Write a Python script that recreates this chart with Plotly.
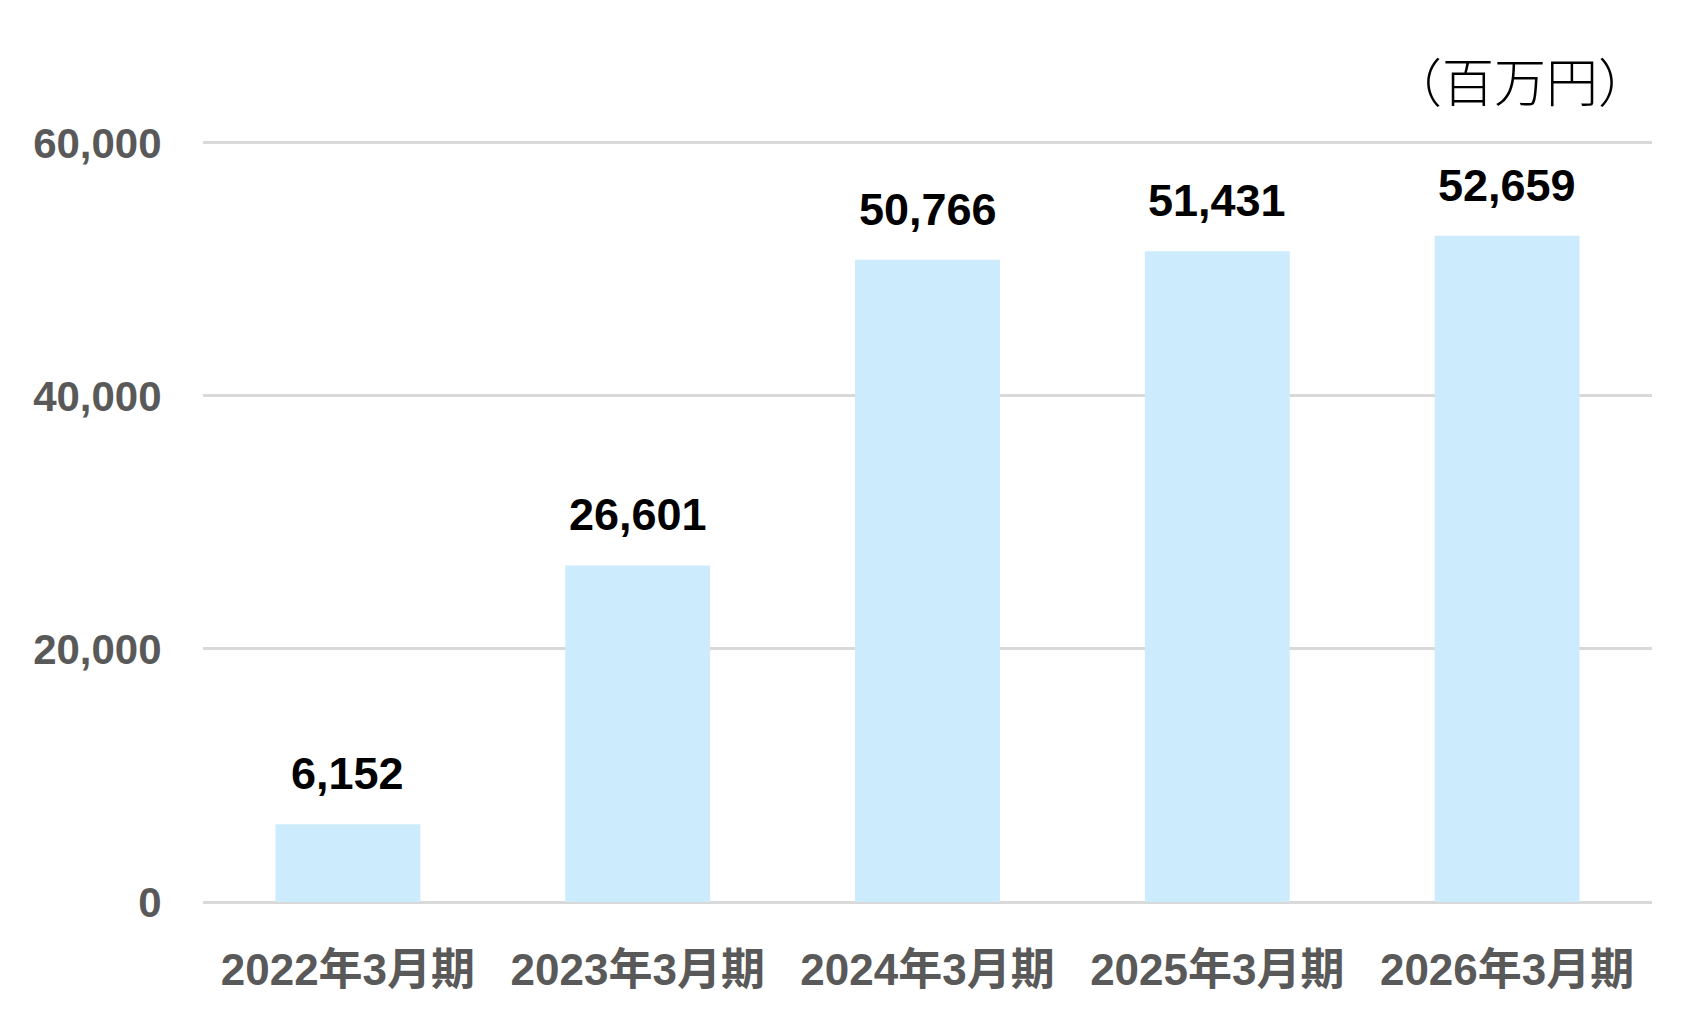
import plotly.graph_objects as go

categories = ["2022年3月期", "2023年3月期", "2024年3月期", "2025年3月期", "2026年3月期"]
values = [6152, 26601, 50766, 51431, 52659]
tick_vals = [0, 20000, 40000, 60000]
tick_text = ["0", "20,000", "40,000", "60,000"]
unit_label = "（百万円）"

font_family = "Liberation Sans, Arial, Noto Sans CJK JP, sans-serif"

fig = go.Figure()
fig.add_trace(go.Bar(
	x=categories,
	y=values,
	marker=dict(color="#CCEBFD", line=dict(width=0)),
	hoverinfo="skip",
))

# value labels above the bars
for cat, val in zip(categories, values):
	fig.add_annotation(
		x=cat, y=val, text=f"<b>{val:,}</b>",
		showarrow=False, yanchor="bottom", yshift=23,
		font=dict(family=font_family, size=45, color="#000000"),
	)

fig.add_annotation(
	xref="paper", yref="paper", x=1.0, y=1.0,
	xanchor="right", yanchor="bottom", xshift=0, yshift=20,
	text=unit_label, showarrow=False,
	font=dict(family="Noto Sans CJK JP", size=52, color="#000000", weight=300),
)

# page body has an 8px margin, so the figure is sized/offset to compensate
fig.update_layout(
	width=1697, height=1023,
	margin=dict(l=195, r=53, t=131, b=129),
	paper_bgcolor="white", plot_bgcolor="white",
	bargap=0.5, showlegend=False,
	font=dict(family=font_family),
)
fig.update_xaxes(
	showgrid=False, showline=False, zeroline=False,
	ticks="outside", ticklen=29, tickcolor="rgba(0,0,0,0)",
	tickfont=dict(family=font_family, size=44, color="#595959", weight="bold"),
)
fig.update_yaxes(
	range=[0, 60300], tickvals=tick_vals, ticktext=tick_text,
	showgrid=True, gridcolor="#D9D9D9", gridwidth=3,
	zeroline=True, zerolinecolor="#D9D9D9", zerolinewidth=3,
	showline=False,
	ticks="outside", ticklen=32, tickcolor="rgba(0,0,0,0)",
	tickfont=dict(family=font_family, size=42, color="#595959", weight="bold"),
)

fig.write_html("out.html")
